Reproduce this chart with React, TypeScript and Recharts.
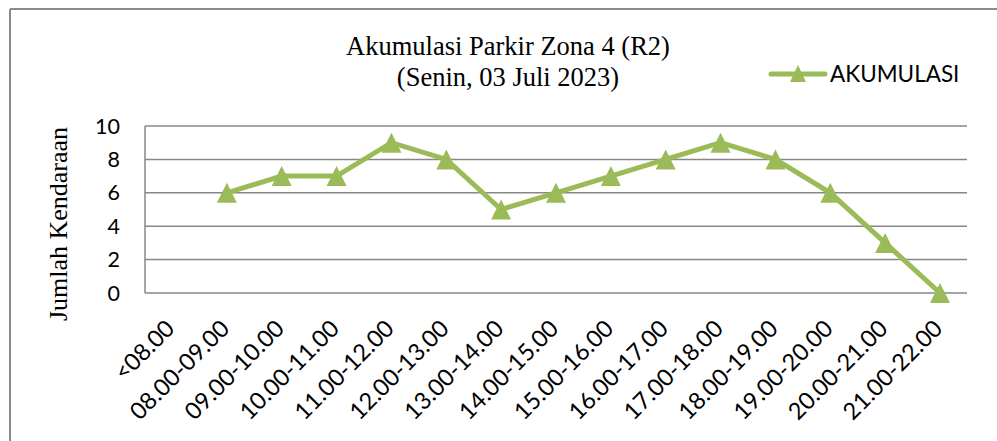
import React from 'react';
import { LineChart, Line, XAxis, YAxis, CartesianGrid } from 'recharts';

const categories = ['<08.00', '08.00-09.00', '09.00-10.00', '10.00-11.00', '11.00-12.00', '12.00-13.00', '13.00-14.00', '14.00-15.00', '15.00-16.00', '16.00-17.00', '17.00-18.00', '18.00-19.00', '19.00-20.00', '20.00-21.00', '21.00-22.00'];
const akumulasi: (number | null)[] = [null, 6, 7, 7, 9, 8, 5, 6, 7, 8, 9, 8, 6, 3, 0];
const yTicks = [0, 2, 4, 6, 8, 10];
const titleLines = ['Akumulasi Parkir Zona 4 (R2)', '(Senin, 03 Juli 2023)'];
const seriesName = 'AKUMULASI';
const yTitle = 'Jumlah Kendaraan';

const data = categories.map((c, i) => ({ name: c, value: akumulasi[i] }));

const GREEN = '#9BBB59';
const GRID = '#878787';
const SANS = 'Lato, "Liberation Sans", sans-serif';
const SERIF = '"Liberation Serif", "Times New Roman", serif';

const Triangle = (props: any) => {
  const { cx, cy, payload } = props;
  if (cx == null || cy == null || payload?.value == null) return null;
  const w = 20, h = 20;
  return (
    <path d={`M${cx},${cy - h / 2} L${cx + w / 2},${cy + h / 2} L${cx - w / 2},${cy + h / 2} Z`} fill={GREEN} />
  );
};

const YTick = (props: any) => {
  const { y, payload } = props;
  return (
    <text x={120} y={y} dy={7.5} textAnchor="end" fontFamily={SANS} fontSize={21.5} fill="#000">
      {payload.value}
    </text>
  );
};

const XTick = (props: any) => {
  const { x, payload } = props;
  return (
    <text transform={`translate(${x + 4},${330}) rotate(-45)`} textAnchor="end" fontFamily={SANS} fontSize={23.5} fill="#000">
      {payload.value}
    </text>
  );
};

export default function App() {
  return (
    <div style={{ position: 'absolute', left: 0, top: 0, width: 997, height: 441, background: '#fff' }}>
      <LineChart width={997} height={441} data={data} margin={{ top: 126, right: 30, left: 0, bottom: 0 }}>
        <CartesianGrid vertical={false} stroke={GRID} strokeWidth={1.5} />
        <XAxis dataKey="name" height={148} axisLine={false} tickLine={false} tick={<XTick />} interval={0} padding={{ left: 27, right: 27 }} />
        <YAxis width={145} domain={[0, 10]} ticks={yTicks} axisLine={{ stroke: GRID, strokeWidth: 1.5 }} tickLine={false} tick={<YTick />} />
        <Line dataKey="value" stroke={GREEN} strokeWidth={5} dot={<Triangle />} activeDot={false} isAnimationActive={false} connectNulls={false} />
      </LineChart>
      <svg width={997} height={441} style={{ position: 'absolute', left: 0, top: 0, pointerEvents: 'none' }}>
        <line x1={10} y1={9} x2={997} y2={9} stroke="#8a8a8a" strokeWidth={2} />
        <line x1={10} y1={9} x2={10} y2={441} stroke="#8a8a8a" strokeWidth={2} />
        <text x={508} y={55} textAnchor="middle" fontFamily={SERIF} fontSize={26.5} fill="#000">{titleLines[0]}</text>
        <text x={508} y={86} textAnchor="middle" fontFamily={SERIF} fontSize={26.5} fill="#000">{titleLines[1]}</text>
        <line x1={771} y1={74} x2={825} y2={74} stroke={GREEN} strokeWidth={5} strokeLinecap="round" />
        <path d="M798,65 L806,82 L790,82 Z" fill={GREEN} />
        <text x={830} y={82} fontFamily={SANS} fontSize={22.5} fill="#000">{seriesName}</text>
        <text transform="translate(67,224) rotate(-90)" textAnchor="middle" fontFamily={SERIF} fontSize={26} fill="#000">{yTitle}</text>
      </svg>
    </div>
  );
}
